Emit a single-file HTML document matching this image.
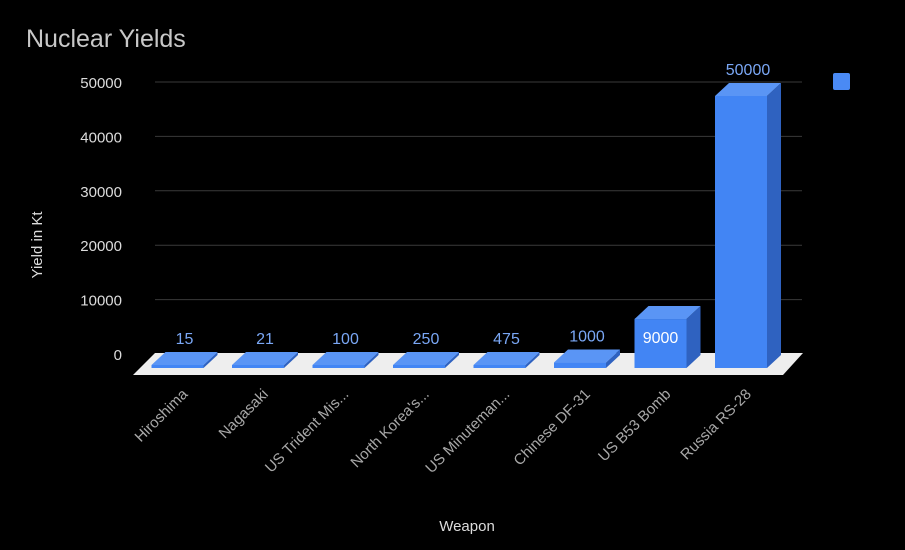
<!DOCTYPE html>
<html><head><meta charset="utf-8"><style>
body{margin:0;background:#000;}
svg{display:block;font-family:"Liberation Sans",sans-serif;}
</style></head><body>
<svg id="c" width="905" height="550">
<rect width="905" height="550" fill="#000"/>
<text x="26" y="47" font-size="25" fill="#c8c8c8">Nuclear Yields</text>
<text transform="translate(42,245) rotate(-90)" text-anchor="middle" font-size="15" fill="#dcdcdc">Yield in Kt</text>
<text x="467" y="531" text-anchor="middle" font-size="15" fill="#dcdcdc">Weapon</text>
<rect x="833" y="73" width="17" height="17" rx="2" fill="#4a8af4"/>
<g id="grid"></g><g id="floor"></g><g id="bars"></g><g id="labels"></g>
</svg>
<script>
const categories=["Hiroshima","Nagasaki","US Trident Mis...","North Korea's...","US Minuteman...","Chinese DF-31","US B53 Bomb","Russia RS-28"];
const values=[15,21,100,250,475,1000,9000,50000];
const yTicks=[0,10000,20000,30000,40000,50000];
const NS="http://www.w3.org/2000/svg";
function mk(t,a,p){const e=document.createElementNS(NS,t);for(const k in a)e.setAttribute(k,a[k]);p.appendChild(e);return e;}
const baseBack=355, pxPer=272/50000;
function yBack(v){return baseBack-v*pxPer;}
const grid=document.getElementById('grid');
yTicks.forEach(t=>{
  const y=yBack(t)-1;
  if(t>0){const l=mk('line',{x1:155,x2:802,y1:y,y2:y,stroke:'#3a3a3a','stroke-width':1},grid);
  
  }
  const tx=mk('text',{x:122,y:y+6,'text-anchor':'end','font-size':15,fill:'#dcdcdc'},grid);
  tx.textContent=t;
  
  
});
const fl=mk('polygon',{points:'155,353 803,353 783,375 133,375',fill:'#eeeeee'},document.getElementById('floor'));


const bars=document.getElementById('bars'),labels=document.getElementById('labels');
const step=80.5,x0=151.5,w=52,dx=14,dy=13,bottom=368;
const maxV=Math.max(...values);
values.forEach((v,i)=>{
  const x=x0+i*step;
  const h=Math.max(v*pxPer,3);
  const top=bottom-h;
  const g=mk('g',{},bars);
  
  
  mk('polygon',{points:`${x+w},${top} ${x+w+dx},${top-dy} ${x+w+dx},${bottom-dy} ${x+w},${bottom}`,fill:'#2f62c0'},g);
  mk('polygon',{points:`${x},${top} ${x+dx},${top-dy} ${x+w+dx},${top-dy} ${x+w},${top}`,fill:'#5a95f5'},g);
  mk('rect',{x:x,y:top,width:w,height:h,fill:'#4285f4'},g);
  const inside=h>40 && v<maxV;
  const lt=mk('text',{x:x+w/2+(inside?0:7),y:inside?top+24:top-dy-8,'text-anchor':'middle','font-size':16,fill:inside?'#ffffff':'#7aa7f5'},labels);
  lt.textContent=v;
  
  
  const cx=x+w/2+11;
  const xl=mk('text',{transform:`translate(${cx},395) rotate(-45)`,'text-anchor':'end','font-size':15,fill:'#a8a8a8'},labels);
  xl.textContent=categories[i];
  
  
});
</script>
</body></html>
